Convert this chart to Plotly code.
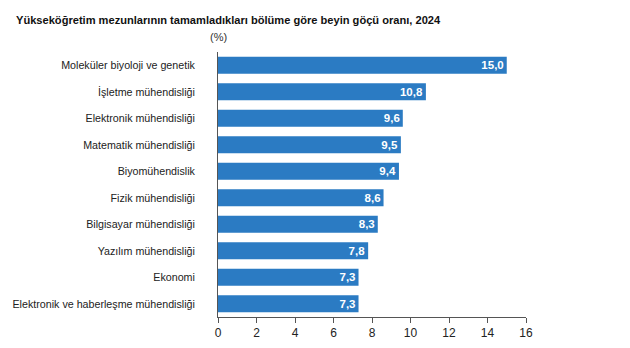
import plotly.graph_objects as go

# Brain-drain rate by field of study of higher-education graduates, 2024 (%)
departments = [
    "Moleküler biyoloji ve genetik",
    "İşletme mühendisliği",
    "Elektronik mühendisliği",
    "Matematik mühendisliği",
    "Biyomühendislik",
    "Fizik mühendisliği",
    "Bilgisayar mühendisliği",
    "Yazılım mühendisliği",
    "Ekonomi",
    "Elektronik ve haberleşme mühendisliği",
]
rates = [15.0, 10.8, 9.6, 9.5, 9.4, 8.6, 8.3, 7.8, 7.3, 7.3]
x_ticks = [0, 2, 4, 6, 8, 10, 12, 14, 16]

FONT = "Liberation Sans, Arial, sans-serif"
BAR_COLOR = "#2b7bc3"
L, R, T, B = 218, 104, 52, 31
PLOT_W = 630 - L - R

fig = go.Figure(
    go.Bar(
        x=rates,
        y=departments,
        orientation="h",
        marker=dict(color=BAR_COLOR, line=dict(width=0)),
        text=[f"{v:.1f}".replace(".", ",") for v in rates],
        textposition="inside",
        insidetextanchor="end",
        constraintext="none",
        textfont=dict(family=FONT, size=11.5, color="white", weight="bold"),
        cliponaxis=False,
    )
)

fig.update_layout(
    width=630,
    height=348,
    margin=dict(l=L, r=R, t=T, b=B, autoexpand=False),
    paper_bgcolor="white",
    plot_bgcolor="white",
    bargap=0.36,
    showlegend=False,
    font=dict(family=FONT, size=11, color="#222222"),
    annotations=[
        dict(
            text="Yükseköğretim mezunlarının tamamladıkları bölüme göre beyin göçü oranı, 2024",
            xref="paper", yref="paper", x=(14 - L) / PLOT_W, y=1, yshift=32,
            xanchor="left", yanchor="middle", showarrow=False,
            font=dict(family=FONT, size=11.1, color="#111111", weight="bold"),
        ),
        dict(
            text="(%)",
            xref="paper", yref="paper", x=0, y=1, yshift=15,
            xanchor="center", yanchor="middle", showarrow=False,
            font=dict(family=FONT, size=11, color="#333333"),
        ),
    ],
)

fig.update_xaxes(
    range=[0, 16],
    tickvals=x_ticks,
    ticktext=[str(t) for t in x_ticks],
    showgrid=False,
    zeroline=False,
    showline=True,
    linecolor="#555555",
    linewidth=1,
    ticks="outside",
    ticklen=5,
    tickcolor="#555555",
    tickfont=dict(family=FONT, size=12, color="#222222"),
    automargin=False,
    fixedrange=True,
)

fig.update_yaxes(
    categoryorder="array",
    categoryarray=departments[::-1],
    autorange=False,
    range=[-0.5, len(departments) - 0.5],
    showgrid=False,
    zeroline=False,
    showline=True,
    linecolor="#555555",
    linewidth=1,
    ticks="",
    ticklabelstandoff=20,
    tickfont=dict(family=FONT, size=10.7, color="#222222"),
    automargin=False,
    fixedrange=True,
)

fig.write_html("out.html")
